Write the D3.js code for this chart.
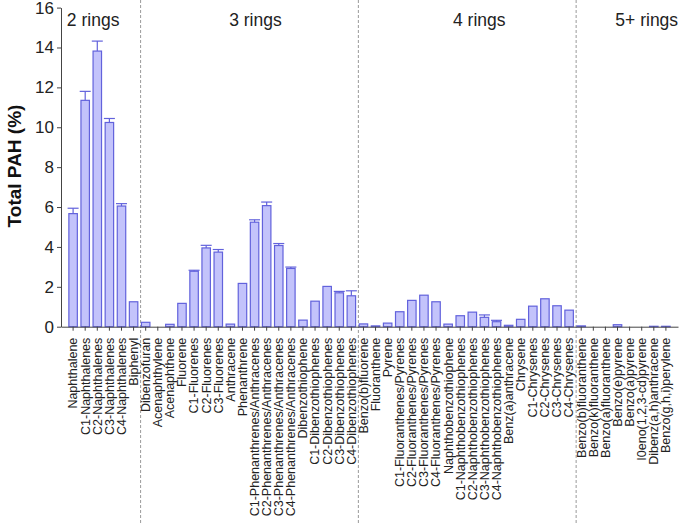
<!DOCTYPE html>
<html>
<head>
<meta charset="utf-8">
<script src="https://cdn.jsdelivr.net/npm/d3@7"></script>
<style>
  body { margin: 0; background: #fff; }
  svg { font-family: "Liberation Sans", Arial, sans-serif; display: block; }
</style>
</head>
<body>
<div id="chart"></div>
<script>
// compounds, in plotted order
const categories = [
  "Naphthalene", "C1-Naphthalenes", "C2-Naphthalenes", "C3-Naphthalenes", "C4-Naphthalenes", "Biphenyl",
  "Dibenzofuran", "Acenaphthylene", "Acenaphthene", "Fluorene", "C1-Fluorenes", "C2-Fluorenes", "C3-Fluorenes",
  "Anthracene", "Phenanthrene", "C1-Phenanthrenes/Anthracenes", "C2-Phenanthrenes/Anthracenes",
  "C3-Phenanthrenes/Anthracenes", "C4-Phenanthrenes/Anthracenes", "Dibenzothiophene", "C1-Dibenzothiophenes",
  "C2-Dibenzothiophenes", "C3-Dibenzothiophenes", "C4-Dibenzothiophenes",
  "Benzo(b)fluorene", "Fluoranthene", "Pyrene", "C1-Fluoranthenes/Pyrenes", "C2-Fluoranthenes/Pyrenes",
  "C3-Fluoranthenes/Pyrenes", "C4-Fluoranthenes/Pyrenes", "Naphthobenzothiophene", "C1-Naphthobenzothiophenes",
  "C2-Naphthobenzothiophenes", "C3-Naphthobenzothiophenes", "C4-Naphthobenzothiophenes", "Benz(a)anthracene",
  "Chrysene", "C1-Chrysenes", "C2-Chrysenes", "C3-Chrysenes", "C4-Chrysenes",
  "Benzo(b)fluoranthene", "Benzo(k)fluoranthene", "Benzo(a)fluoranthene", "Benzo(e)pyrene", "Benzo(a)pyrene",
  "I0eno(1,2,3-cd)pyrene", "Dibenz(a,h)anthracene", "Benzo(g,h,i)perylene"
];

const values = [
  5.67, 11.35, 13.82, 10.24, 6.05, 1.25,
  0.22, 0, 0.12, 1.17, 2.78, 3.95, 3.74,
  0.13, 2.17, 5.24, 6.07,
  4.07, 2.92, 0.33, 1.28,
  2.02, 1.70, 1.55,
  0.14, 0.04, 0.18, 0.75, 1.32,
  1.58, 1.25, 0.13, 0.55,
  0.73, 0.47, 0.25, 0.07,
  0.37, 1.03, 1.40, 1.05, 0.83,
  0.04, 0, 0, 0.10, 0,
  0, 0.02, 0.02
];

// upper error (same unit)
const errors = [
  0.27, 0.45, 0.50, 0.20, 0.12, 0.03,
  0.02, 0, 0.02, 0.03, 0.05, 0.13, 0.13,
  0.02, 0.03, 0.12, 0.18,
  0.10, 0.07, 0.03, 0.03,
  0.03, 0.07, 0.25,
  0.02, 0.01, 0.02, 0.03, 0.03,
  0.03, 0.03, 0.02, 0.03,
  0.03, 0.12, 0.07, 0.01,
  0.02, 0.03, 0.03, 0.03, 0.03,
  0.01, 0, 0, 0.02, 0,
  0, 0.01, 0.01
];

const groups = ["2 rings", "3 rings", "4 rings", "5+ rings"];
const groupLast = ["Biphenyl", "C4-Dibenzothiophenes", "C4-Chrysenes"];
const groupLabelAt = ["Naphthalene", "Anthracene", "C1-Naphthobenzothiophenes", "Benzo(a)pyrene"];

const yTicks = [0, 2, 4, 6, 8, 10, 12, 14, 16];

const WIDTH = 685, HEIGHT = 529;
const LEFT = 61, RIGHT = 678, TOP = 7.6, BOTTOM = 326.7;

const data = categories.map((c, i) => ({ name: c, value: values[i], err: errors[i] }));

const svg = d3.select("#chart").append("svg").attr("width", WIDTH).attr("height", HEIGHT)
svg.append("rect").attr("width", WIDTH).attr("height", HEIGHT).attr("fill", "#fff")

const x = d3.scaleBand().domain(categories).range([LEFT, RIGHT]).paddingInner(0.3).paddingOuter(0.65)
const y = d3.scaleLinear().domain([0, 16]).range([BOTTOM, TOP])

// group dividers
groupLast.forEach(c => {
    const xx = x(c) + x.bandwidth() / 2 + x.step() * 0.58
    svg.append("line").attr("x1", xx).attr("x2", xx).attr("y1", 0).attr("y2", 524)
      .attr("stroke", "#9a9a9a").attr("stroke-width", 1).attr("stroke-dasharray", "3,2")
})

// group titles
const labelDx = [-2, 3, -3, -10]
groups.forEach((g, i) => {
    svg.append("text").attr("x", x(groupLabelAt[i]) + labelDx[i]).attr("y", 26)
      .attr("font-size", "17.5px").attr("fill", "#222").text(g)
})

// bars
svg.selectAll("rect.bar").data(data).enter().append("rect").attr("class", "bar")
  .attr("x", d => x(d.name)).attr("width", x.bandwidth())
  .attr("y", d => y(d.value)).attr("height", d => y(0) - y(d.value))
  .attr("fill", "#c3c3fb").attr("stroke", "#6262dc").attr("stroke-width", 1.2)
  .style("display", d => d.value > 0 ? null : "none")

// error bars (upper only)
const errData = data.filter(d => d.err > 0.04)
const cap = x.bandwidth() * 0.65
svg.selectAll("line.err").data(errData).enter().append("line").attr("class", "err")
  .attr("x1", d => x(d.name) + x.bandwidth() / 2).attr("x2", d => x(d.name) + x.bandwidth() / 2)
  .attr("y1", d => y(d.value)).attr("y2", d => y(d.value + d.err))
  .attr("stroke", "#6262dc").attr("stroke-width", 1.2)
svg.selectAll("line.cap").data(errData).enter().append("line").attr("class", "cap")
  .attr("x1", d => x(d.name) + x.bandwidth() / 2 - cap).attr("x2", d => x(d.name) + x.bandwidth() / 2 + cap)
  .attr("y1", d => y(d.value + d.err)).attr("y2", d => y(d.value + d.err))
  .attr("stroke", "#6262dc").attr("stroke-width", 1.2)

// axes
const gen_y = d3.axisLeft(y).tickValues(yTicks).tickSize(4).tickSizeOuter(0).tickPadding(3)
const yAxis = svg.append("g").attr("transform", "translate(" + LEFT + ",0)").call(gen_y)
yAxis.selectAll("text").attr("font-size", "17px").attr("fill", "#222").style("font-family", "Liberation Sans, Arial, sans-serif")
yAxis.selectAll("line, path").attr("stroke", "#444")

const gen_x = d3.axisBottom(x).tickSize(4).tickSizeOuter(0)
const xAxis = svg.append("g").attr("transform", "translate(0," + BOTTOM + ")").call(gen_x)
xAxis.selectAll("line, path").attr("stroke", "#444")
xAxis.selectAll("text")
  .attr("transform", "rotate(-90)")
  .attr("text-anchor", "end")
  .attr("x", -11).attr("y", 0).attr("dy", "0.35em")
  .attr("font-size", "12.5px").attr("fill", "#222")
  .style("font-family", "Liberation Sans, Arial, sans-serif")

// y title
svg.append("text").attr("transform", "translate(21,166) rotate(-90)")
  .attr("text-anchor", "middle").attr("font-size", "19px").attr("font-weight", "bold")
  .attr("fill", "#111").text("Total PAH (%)")
</script>
</body>
</html>
